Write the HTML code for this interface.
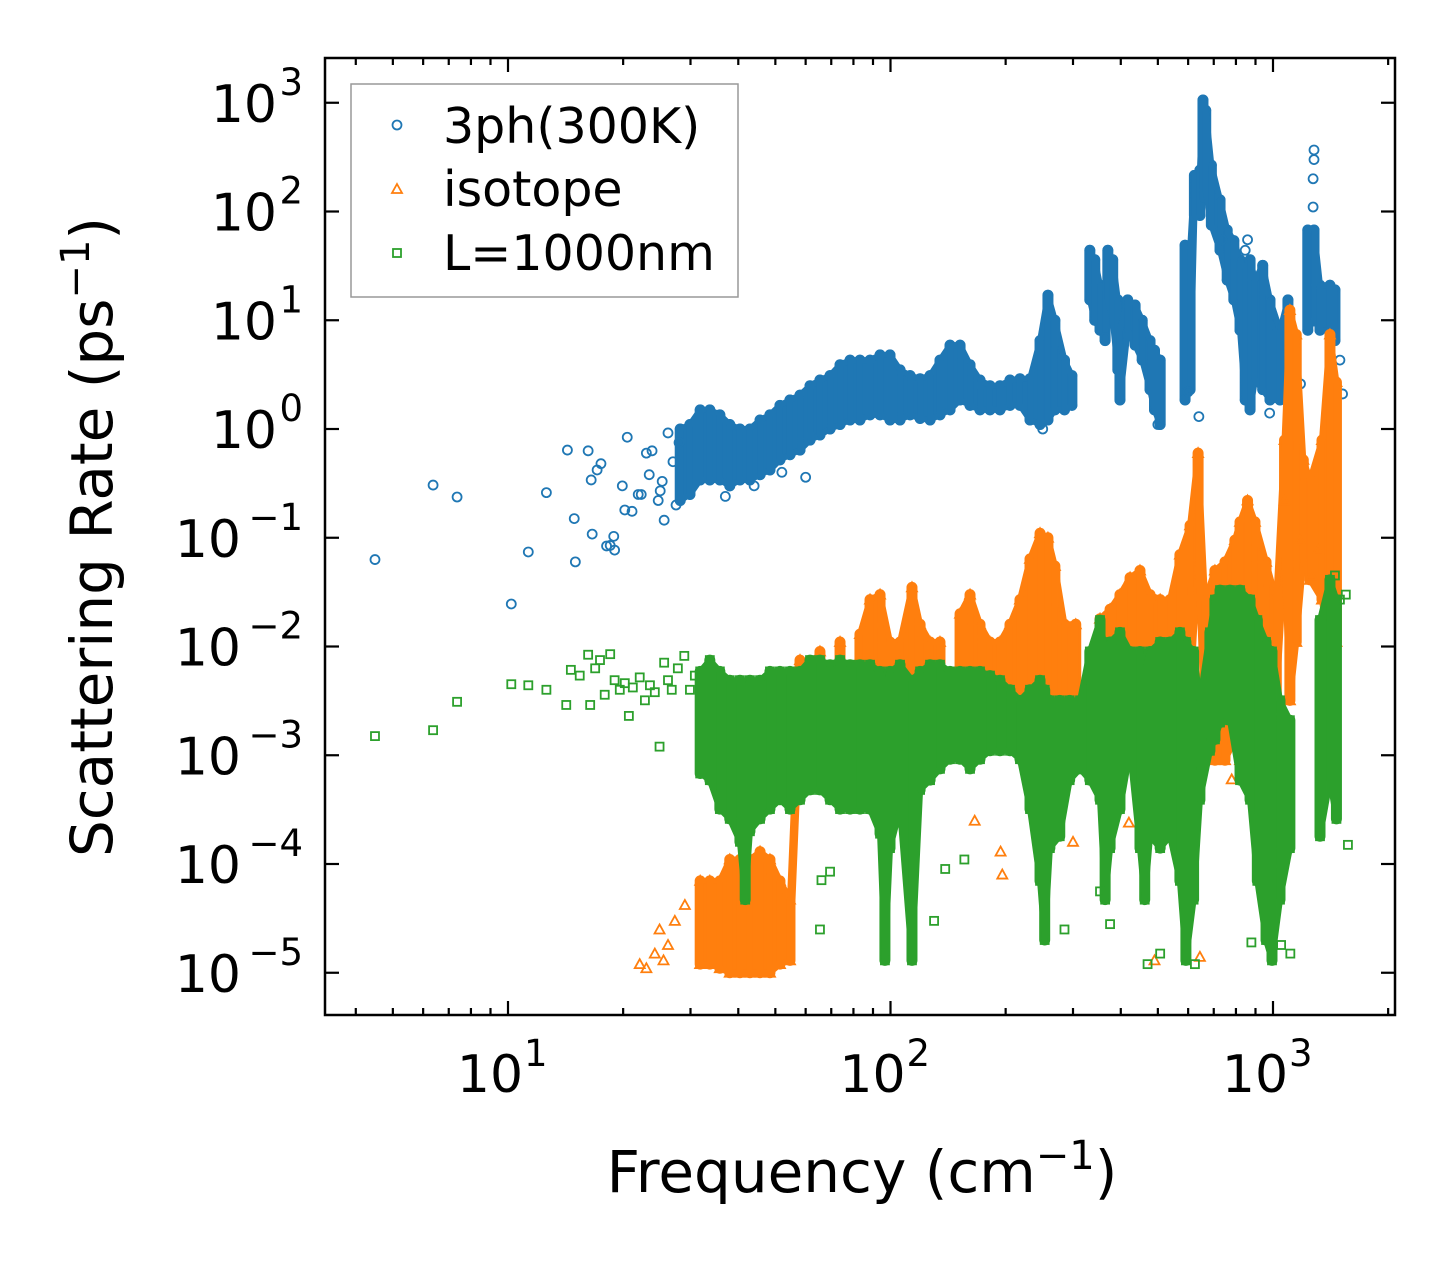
<!DOCTYPE html>
<html><head><meta charset="utf-8"><style>
html,body{margin:0;padding:0;background:#fff;}
svg{display:block;font-family:"DejaVu Sans","Liberation Sans",sans-serif;}
</style></head><body>
<svg id="chart" width="1455" height="1265" viewBox="0 0 1455 1265" xmlns="http://www.w3.org/2000/svg">
<rect x="0" y="0" width="1455" height="1265" fill="#fff"/>
<defs><clipPath id="clip"><rect x="325" y="58" width="1070" height="957"/></clipPath></defs>
<g id="marks" clip-path="url(#clip)"></g>
<g id="axes"></g>
<text transform="translate(112,537) rotate(-90)" text-anchor="middle" font-size="58">Scattering Rate (ps<tspan dy="-23" font-size="40">−1</tspan><tspan dy="23">)</tspan></text>
<text x="862" y="1192" text-anchor="middle" font-size="58">Frequency (cm<tspan dy="-23" font-size="40">−1</tspan><tspan dy="23">)</tspan></text>
<g>
<rect x="351" y="84" width="387" height="213" fill="#fff" stroke="#999" stroke-width="1.5"/>
<circle cx="397" cy="125" r="4.5" fill="none" stroke="#1f77b4" stroke-width="1.8"/>
<text x="443" y="143" font-size="49">3ph(300K)</text>
<path d="M397,184 L402,193 L392,193 Z" fill="none" stroke="#ff7f0e" stroke-width="1.8"/>
<text x="443" y="206" font-size="49">isotope</text>
<rect x="393" y="249" width="8" height="8" fill="none" stroke="#2ca02c" stroke-width="1.8"/>
<text x="443" y="270" font-size="49">L=1000nm</text>
</g>
</svg>
<script>
// axis ticks
const xMajorTicks = [10, 100, 1000];
const xMajorLabels = ["1", "2", "3"];
const yMajorTicks = [1e-5, 1e-4, 1e-3, 1e-2, 1e-1, 1, 10, 100, 1000];
const yMajorLabels = ["−5", "−4", "−3", "−2", "−1", "0", "1", "2", "3"];

// 3ph (300K) scattered points
const blueF = [4.49,6.37,7.36,10.2,11.3,12.6,14.3,14.9,15.0,16.2,16.5,16.6,17.1,17.5,18.1,18.5,19.0,18.9,19.9,20.2,20.5,21.1,21.9,22.3,23.0,23.4,23.8,24.7,25.0,25.3,25.6,26.2,27.0,27.5,28.0,1280,1280,1273,1273,735,858,846,364,1496,1520,37,44,52,60,1100,1180,600,640,500,980,250];
const blueR = [0.063,0.305,0.237,0.0246,0.074,0.26,0.64,0.15,0.06,0.63,0.34,0.108,0.42,0.48,0.084,0.085,0.077,0.103,0.3,0.18,0.84,0.175,0.25,0.25,0.6,0.38,0.63,0.22,0.27,0.33,0.145,0.92,0.5,0.2,0.75,368,300,200,110,55,55,44,6.9,4.3,2.1,0.24,0.3,0.4,0.36,1.5,2.6,2.2,1.3,1.1,1.4,1.0];
// 3ph dense bands: frequency, lower rate, upper rate
const blueBandF = [28.2,29.9,31.8,33.7,35.8,38,40.4,42.9,45.6,48.4,51.4,54.6,58,61.6,65.4,69.5,73.8,78.4,83.2,88.4,93.9,99.7,105.9,112.5,119.5,126.9,134.7,143.1,152,161.4,171.4,182,193.3,205.3,218,231.6,246,258,269,285,298,332,342,353,364,370,381,393,398,417,436,455,477,490,507,589,607,623,644,656,667,690,727,759,790,820,846,871,897,940,982,1043,1094,1233,1280,1327,1409,1452];
const blueBandLo = [0.22,0.25,0.34,0.34,0.34,0.3,0.34,0.34,0.38,0.42,0.52,0.58,0.64,0.79,0.88,1.0,1.1,1.21,1.21,1.35,1.35,1.21,1.21,1.35,1.25,1.21,1.35,1.5,1.85,1.65,1.5,1.5,1.5,1.65,1.65,1.21,1.1,1.21,1.5,1.5,1.65,15.4,10,8.1,6.5,15.4,10,3.5,1.85,8.1,5.9,4.3,2.3,1.5,1.1,1.85,2.3,92,92,128,157,75,44,23.4,15.4,8.1,1.85,1.5,2.82,2.3,1.85,1.85,6.5,8.1,10,8.1,8.1,6.5];
const blueBandHi = [1.0,1.1,1.5,1.5,1.35,1.1,1.0,1.0,1.21,1.35,1.65,1.85,2.05,2.5,2.82,3.1,3.9,4.3,4.3,4.3,4.8,4.8,3.5,3.1,2.9,3.1,4.3,5.9,5.9,3.9,2.82,2.5,2.5,2.82,2.9,2.9,6.5,17,10,4.3,3.1,44,36,21,19,44,36,15.4,8.1,15.4,13.8,10,6.5,5.3,4.3,49,44,215,240,1060,850,267,128,67.6,54,36,29,36,23.4,32,15.4,8.1,15.4,67.6,67.6,21,21,19];

// isotope scattered points
const orangeF = [22.1,24.2,24.9,26.2,27.3,29,23.0,25.5,194,196,490,644,1072,1177,1312,1452,1260,166,246,300,420,780,1000];
const orangeR = [1.2e-5,1.5e-5,2.5e-5,1.8e-5,3e-5,4.2e-5,1.1e-5,1.3e-5,1.3e-4,8e-5,1.3e-5,1.4e-5,0.22,0.095,0.077,0.004,0.045,2.5e-4,1.3e-4,1.6e-4,2.4e-4,6e-4,5e-4];
// isotope dense bands
const orangeBandF = [31.8,33.7,35.8,38,40.4,42.9,45.6,48.4,51.4,54.6,58,65.4,73.8,83.2,88.4,93.9,99.7,105.9,113.8,119.5,126.9,134.7,152,161.4,171.4,182,193.3,205.3,218,231.6,246,258,269,285,305,353,375,398,423,449,477,507,538,571,607,637,664,705,749,795,820,858,897,959,1020,1072,1107,1150,1200,1250,1343,1409,1465];
const orangeBandLo = [1.2e-5,1.2e-5,1.1e-5,1e-5,1e-5,1e-5,1e-5,1e-5,1.2e-5,1.3e-5,0.0021,0.0021,0.0021,0.0021,0.0021,0.0021,0.0021,0.0021,0.0021,0.0021,0.0021,0.0021,0.0021,0.0021,0.0021,0.0021,0.0021,0.0021,0.0014,0.0014,0.0012,0.0012,0.0014,0.0017,0.0014,0.0014,0.0014,0.0014,0.0014,0.0009,0.0009,0.0009,0.0009,0.0032,0.0032,0.062,0.0014,0.0009,0.0009,0.0014,0.0009,0.0021,0.0032,0.0021,0.0032,0.062,0.0032,0.011,0.062,0.041,0.027,0.0075,0.011];
const orangeBandHi = [7e-5,7e-5,7e-5,1.1e-4,1.1e-4,1.1e-4,1.3e-4,1.1e-4,7e-5,4.7e-5,0.0075,0.009,0.011,0.013,0.027,0.03,0.011,0.011,0.035,0.016,0.011,0.011,0.02,0.03,0.016,0.011,0.011,0.016,0.027,0.064,0.11,0.1,0.055,0.016,0.016,0.018,0.022,0.03,0.043,0.05,0.03,0.027,0.027,0.07,0.13,0.6,0.027,0.05,0.06,0.095,0.14,0.22,0.14,0.06,0.027,0.79,12.4,7.4,0.52,0.34,0.79,7.4,2.7];

// L=1000nm scattered points
const greenF = [4.49,6.37,7.36,10.2,11.3,12.6,14.2,14.6,15.4,16.2,16.4,16.9,17.4,17.9,18.5,19.0,19.6,20.2,20.7,21.2,22.1,22.8,23.5,24.2,24.9,25.6,26.2,26.8,27.8,28.9,29.9,30.8,66,69.5,65.4,130,139,156,285,353,375,470,507,625,878,1050,1110,1452,1550,1570,1496];
const greenR = [0.0015,0.0017,0.0031,0.0045,0.0044,0.004,0.0029,0.0061,0.0054,0.0084,0.0029,0.0063,0.0075,0.0036,0.0085,0.0049,0.004,0.0046,0.0023,0.0042,0.0052,0.0032,0.0044,0.0038,0.0012,0.0071,0.0049,0.004,0.0063,0.0082,0.004,0.0054,7.1e-5,8.5e-5,2.5e-5,3e-5,9e-5,1.1e-4,2.5e-5,5.6e-5,2.8e-5,1.2e-5,1.5e-5,1.2e-5,1.9e-5,1.8e-5,1.5e-5,0.045,0.03,1.5e-4,0.027];
// L=1000nm dense bands
const greenBandF = [31.8,33.7,35.8,38,40.4,41.7,42.9,45.6,48.4,51.4,54.6,58,61.6,65.4,69.5,73.8,78.4,83.2,88.4,93.9,96.7,99.7,105.9,113.8,119.5,126.9,134.7,143.1,152,161.4,171.4,182,193.3,205.3,218,231.6,246,253,261,277,294,313,332,353,364,375,398,423,449,462,477,507,538,571,592,620,644,684,705,727,772,820,871,910,959,994,1043,1107,1327,1409,1465];
const greenBandLo = [6.8e-4,5.9e-4,3.2e-4,2.6e-4,1.6e-4,4.7e-5,2e-4,2.6e-4,3.2e-4,3.9e-4,3.2e-4,3.9e-4,4.8e-4,4.8e-4,3.9e-4,3.2e-4,3.2e-4,3.2e-4,3.2e-4,1.9e-4,1.3e-5,1.4e-4,3.2e-4,1.3e-5,4.8e-4,5.9e-4,7.5e-4,9.2e-4,9.2e-4,7.5e-4,9.2e-4,1.1e-3,1.1e-3,1.1e-3,9.2e-4,3.2e-4,7e-5,2e-5,1.4e-4,1.8e-4,5.9e-4,7.5e-4,5.9e-4,3.9e-4,4.7e-5,1.4e-4,3.2e-4,1.1e-3,1.4e-4,4.7e-5,1.8e-4,1.4e-4,1.8e-4,7e-5,1.3e-5,4.7e-5,3.9e-4,1.1e-3,1.4e-3,2e-3,2.1e-3,5.9e-4,3.9e-4,7e-5,2e-5,1.3e-5,4.7e-5,1.4e-4,1.8e-4,5.9e-4,2.6e-4];
const greenBandHi = [0.0059,0.0075,0.0059,0.0049,0.0049,0.004,0.0049,0.0049,0.0059,0.0059,0.0059,0.0059,0.0075,0.0075,0.0068,0.0075,0.0068,0.0068,0.0068,0.0059,0.004,0.0059,0.0068,0.0049,0.0059,0.0068,0.0068,0.0059,0.0059,0.0059,0.0059,0.0054,0.0049,0.004,0.0032,0.004,0.0049,0.004,0.0032,0.0032,0.0032,0.0032,0.009,0.0175,0.009,0.011,0.0135,0.009,0.009,0.0059,0.009,0.011,0.011,0.0135,0.011,0.009,0.0032,0.0135,0.027,0.033,0.033,0.033,0.027,0.0175,0.011,0.009,0.0032,0.0021,0.0175,0.041,0.027];

const X0 = 508, XDEC = 382.5, Y0 = 429, YDEC = 108.75;
function xScale(f){ return X0 + XDEC*(Math.log10(f) - 1); }
function yScale(r){ return Y0 - YDEC*Math.log10(r); }
const NS = "http://www.w3.org/2000/svg";
const marks = document.getElementById('marks');
const axes = document.getElementById('axes');
function mk(tag, attrs, parent){
  const e = document.createElementNS(NS, tag);
  for (const k in attrs) e.setAttribute(k, attrs[k]);
  parent.appendChild(e);
  return e;
}
function marker(kind, color, cx, cy, parent){
  let e;
  if (kind === 'c') e = mk('circle', {cx:cx, cy:cy, r:4.5, fill:'none', stroke:color, 'stroke-width':1.8}, parent);
  else if (kind === 't') e = mk('path', {d:'M'+cx+','+(cy-5)+' L'+(cx+5)+','+(cy+4)+' L'+(cx-5)+','+(cy+4)+' Z', fill:'none', stroke:color, 'stroke-width':1.8}, parent);
  else e = mk('rect', {x:cx-4, y:cy-4, width:8, height:8, fill:'none', stroke:color, 'stroke-width':1.8}, parent);
  return e;
}
function drawSeries(name, kind, color, F, R, BF, BLo, BHi){
  const g = mk('g', {}, marks);
  
  
  for (let i = 0; i < BF.length; i++){
    const x = xScale(BF[i]), y1 = yScale(BHi[i]), y2 = yScale(BLo[i]);
    const ln = mk('line', {x1:x, x2:x, y1:y1, y2:y2, stroke:color, 'stroke-width':11, 'stroke-linecap':'round'}, g);
    
    
    const a = marker(kind, color, x, y1, g);
    
    
    const b = marker(kind, color, x, y2, g);
    
    
  }
  for (let i = 0; i + 1 < BF.length; i++){
    const xa = xScale(BF[i]), xb = xScale(BF[i+1]);
    if (xb - xa > 14) continue;
    const poly = mk('polygon', {points: xa+','+yScale(BHi[i])+' '+xb+','+yScale(BHi[i+1])+' '+xb+','+yScale(BLo[i+1])+' '+xa+','+yScale(BLo[i]), fill:color, stroke:color, 'stroke-width':6, 'stroke-linejoin':'round'}, g);
    
    
  }
  for (let i = 0; i < F.length; i++){
    const p = marker(kind, color, xScale(F[i]), yScale(R[i]), g);
    
    
  }
}
drawSeries('3ph', 'c', '#1f77b4', blueF, blueR, blueBandF, blueBandLo, blueBandHi);
drawSeries('isotope', 't', '#ff7f0e', orangeF, orangeR, orangeBandF, orangeBandLo, orangeBandHi);
drawSeries('boundary', 's', '#2ca02c', greenF, greenR, greenBandF, greenBandLo, greenBandHi);

const L = 325, R = 1395, T = 58, B = 1015;
const frame = mk('rect', {x:L, y:T, width:R-L, height:B-T, fill:'none', stroke:'#000', 'stroke-width':2.5}, axes);


for (let d = 0; d <= 3; d++){
  for (let m = 1; m <= 9; m++){
    const f = m * Math.pow(10, d);
    const x = xScale(f);
    if (x < L || x > R) continue;
    const len = m === 1 ? 14 : 7;
    const t1 = mk('line', {x1:x, x2:x, y1:B, y2:B-len, stroke:'#000', 'stroke-width':2.2}, axes);
    
    
    const t2 = mk('line', {x1:x, x2:x, y1:T, y2:T+len, stroke:'#000', 'stroke-width':2.2}, axes);
    
    
  }
}
for (let i = 0; i < xMajorTicks.length; i++){
  const x = xScale(xMajorTicks[i]);
  const t = mk('text', {x:x-18, y:1092, 'font-size':52, 'text-anchor':'middle'}, axes);
  
  
  t.textContent = '10';
  const s = mk('text', {x:x+16, y:1066, 'font-size':37, 'text-anchor':'start'}, axes);
  
  
  s.textContent = xMajorLabels[i];
}
for (let i = 0; i < yMajorTicks.length; i++){
  const y = yScale(yMajorTicks[i]);
  const t1 = mk('line', {x1:L, x2:L+14, y1:y, y2:y, stroke:'#000', 'stroke-width':2.2}, axes);
  
  
  const t2 = mk('line', {x1:R, x2:R-14, y1:y, y2:y, stroke:'#000', 'stroke-width':2.2}, axes);
  
  
  const lab = yMajorLabels[i];
  const expW = lab.length === 1 ? 26 : 62;
  const s = mk('text', {x:303, y:y-8, 'font-size':37, 'text-anchor':'end'}, axes);
  
  
  s.textContent = lab;
  const t = mk('text', {x:303-expW, y:y+19, 'font-size':52, 'text-anchor':'end'}, axes);
  
  
  t.textContent = '10';
}
</script>
</body></html>
